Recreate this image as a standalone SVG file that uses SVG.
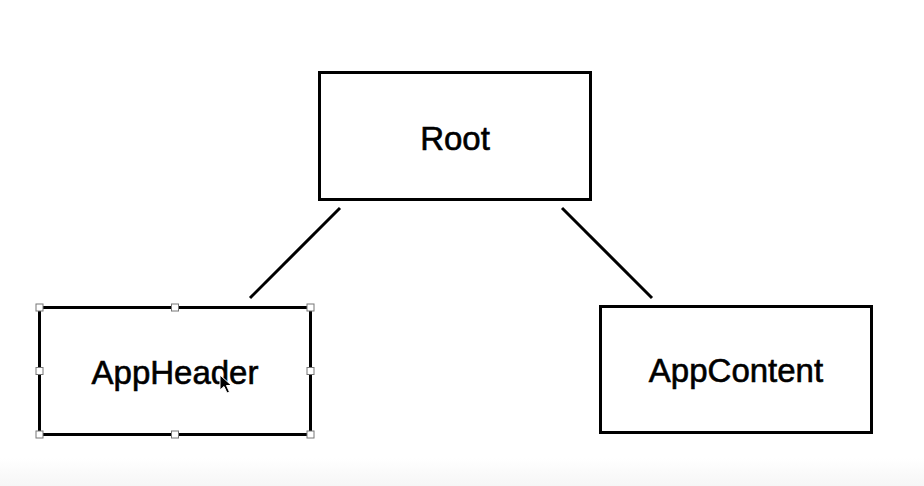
<svg xmlns="http://www.w3.org/2000/svg" width="924" height="486" viewBox="0 0 924 486">
<defs>
<style>
.box{fill:#fff;stroke:#000;stroke-width:3}
.lbl{font-family:"Liberation Sans",Arial,Helvetica,sans-serif;font-size:33px;fill:#000;stroke:#000;stroke-width:0.6;text-anchor:middle}
.conn{stroke:#000;stroke-width:3;fill:none}
.h{fill:#fff;stroke:#777;stroke-width:1}
</style>
<linearGradient id="bot" x1="0" y1="0" x2="0" y2="1">
<stop offset="0" stop-color="#fff"/>
<stop offset="1" stop-color="#f6f6f6"/>
</linearGradient>
</defs>
<rect width="924" height="486" fill="#fff"/>
<rect x="0" y="458" width="924" height="28" fill="url(#bot)"/>
<g id="connectors">
<line class="conn" x1="340" y1="208" x2="250" y2="298"/>
<line class="conn" x1="562" y1="208" x2="652" y2="298"/>
</g>
<g id="root">
<rect class="box" x="319.5" y="72.5" width="271" height="127"/>
<text class="lbl" x="455" y="150">Root</text>
</g>
<g id="appheader">
<rect class="box" x="39.5" y="307.5" width="271" height="127"/>
<text class="lbl" x="175" y="384">AppHeader</text>
<g>
<rect class="h" x="36" y="304" width="7" height="7"/>
<rect class="h" x="171.5" y="304" width="7" height="7"/>
<rect class="h" x="307" y="304" width="7" height="7"/>
<rect class="h" x="36" y="367.5" width="7" height="7"/>
<rect class="h" x="307" y="367.5" width="7" height="7"/>
<rect class="h" x="36" y="431" width="7" height="7"/>
<rect class="h" x="171.5" y="431" width="7" height="7"/>
<rect class="h" x="307" y="431" width="7" height="7"/>
</g>
<path d="M220 375 L220 390 L224 386.5 L227 393 L229.5 392 L226.5 385.5 L231.5 385.5 Z" fill="#000" stroke="#fff" stroke-width="1"/>
</g>
<g id="appcontent">
<rect class="box" x="600.5" y="306.5" width="271" height="126"/>
<text class="lbl" x="736" y="382">AppContent</text>
</g>
</svg>
